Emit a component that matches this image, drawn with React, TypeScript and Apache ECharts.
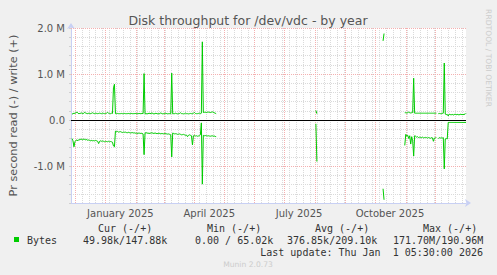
import React, { useEffect, useRef } from 'react';
import * as echarts from 'echarts';

const DAY = 86400000;
const START = Date.UTC(2024, 10, 27);
const END = Date.UTC(2026, 0, 1);

// values in thousands of bytes per second, one per day, segments start at a day offset from START
const seg1StartDay = 1;
const seg1Write = [
  130, 140, 150, 145, 160, 175, 150, 140, 145, 150,
  155, 140, 150, 170, 150, 145, 140, 150, 145, 140,
  150, 160, 145, 140, 150, 145, 140, 145, 150, 145,
  140, 150, 145, 140, 145, 150, 165, 150, 145, 140,
  150, 145, 700, 780,
  140, 140, 145, 140, 140, 140, 145, 140, 140, 145, 140, 140, 140, 145, 140, 140,
  145, 140, 140, 140, 145, 140, 140, 140, 145, 140, 140, 145, 140,
  1010,
  135, 140, 135, 140, 150, 145, 140, 160, 140, 135,
  140, 150, 140, 135, 140, 140, 160, 140, 135, 140,
  140, 150, 140, 135, 140, 140, 135,
  1020,
  135, 140, 140, 150, 140, 135, 140, 145, 160, 140,
  140, 135, 140, 150, 140, 140, 135, 140, 145, 140,
  140, 150, 165, 145, 140, 140, 145, 150, 140, 150,
  1700,
  165, 170, 170, 165, 170, 175, 170, 165, 170, 180, 170, 160, 150, 140,
];
const seg1Read = [
  -400, -450, -580, -470, -440, -430, -450, -420, -430, -410,
  -420, -430, -410, -420, -430, -420, -440, -430, -440, -450,
  -440, -450, -445, -450, -440, -450, -460, -510, -460, -450,
  -460, -455, -460, -470, -460, -465, -470, -460, -470, -465,
  -470, -480, -560, -580,
  -240, -250, -245, -260, -255, -250, -260, -270, -260, -265,
  -260, -270, -275, -265, -270, -280, -275, -270, -280, -275,
  -285, -280, -290, -285, -280, -290, -285, -290, -300,
  -750,
  -280, -270, -285, -280, -290, -285, -280, -275, -285, -290,
  -280, -285, -295, -290, -285, -290, -300, -290, -295, -300,
  -290, -295, -300, -305, -300, -310, -320,
  -800,
  -280, -290, -300, -295, -300, -310, -305, -300, -310, -320,
  -315, -310, -320, -330, -325, -360, -330, -320, -330, -340,
  -540,
  -340, -330, -345, -340, -350, -345, -340, -320,
  -60,
  -1390,
  -330, -340, -335, -340, -345, -340, -345, -350, -345, -340, -350, -345, -355, -360,
];
const seg2StartDay = 248;
const seg2Write = [210, 140];
const seg2Read = [-80, -900];
const seg3StartDay = 316;
const seg3Write = [1720, 1880];
const seg3Read = [-1490, -1730];
const seg4StartDay = 338;
const seg4Write = [
  160, 160, 155, 160, 175, 160, 155, 160, 165,
  910,
  150, 150, 150, 150, 150, 150, 150, 150, 150, 150, 150, 150,
  150, 150, 150, 150, 150, 150, 150, 150, 150, 150, 150,
  null,
  140, 145, 140, 140, 145, 150,
  1240,
  130, 120, 125, 90, 130, 120, 115, 125, 110, 120, 130,
  115, 125, 120, 110, 130, 120, 125, 115, 130, 125, 148,
];
const seg4Read = [
  -550, -310, -350, -330, -400, -340, -520, -360, -450,
  -780,
  -340, -350, -370, -360, -380, -370, -375, -380, -370, -385, -380, -375,
  -380, -390, -380, -385, -395, -380, -385, -460, -390, -385, -380,
  null,
  -400, -380, -390, -385, -390, -380,
  -1060,
  -410, -400, -410,
  -50, -50, -50, -50, -50, -50, -50, -50, -50, -50,
  -50, -50, -50, -50, -50, -50, -50, -50, -50,
];

const yLabelValues = [-1000000, 0, 1000000, 2000000];
const yLabelTexts = ['-1.0 M', '0.0', '1.0 M', '2.0 M'];
const xLabelDates = ['2025-01-16', '2025-04-16', '2025-07-16', '2025-10-16'];
const xLabels = ['January 2025', 'April 2025', 'July 2025', 'October 2025'];
const legendHeaders = ['Cur (-/+)', 'Min (-/+)', 'Avg (-/+)', 'Max (-/+)'];
const legendValues = ['49.98k/147.88k', '0.00 / 65.02k', '376.85k/209.10k', '171.70M/190.96M'];
const seriesName = 'Bytes';
const titleText = 'Disk throughput for /dev/vdc - by year';
const yAxisName = 'Pr second read (-) / write (+)';
const lastUpdate = 'Last update: Thu Jan \u00a01 05:30:00 2026';
const watermark = 'RRDTOOL / TOBI OETIKER';
const version = 'Munin 2.0.73';

type Seg = [number, (number | null)[]];

function build(segs: Seg[]) {
  const out: [number, number | null][] = [];
  segs.forEach(([s, arr]) => {
    arr.forEach((v, i) => out.push([START + (s + i) * DAY, v === null ? null : v * 1000]));
    out.push([START + (s + arr.length) * DAY - DAY / 2, null]);
  });
  return out;
}

const GREEN = '#00cc00';
const MAJOR = '#f4b0b0';
const MINOR = '#dadada';
const AXIS = '#c8d0f4';
const SANS = '"DejaVu Sans", sans-serif';
const MONO = '"DejaVu Sans Mono", monospace';

export default function App() {
  const ref = useRef<HTMLDivElement>(null);
  useEffect(() => {
    if (!ref.current) return;
    const chart = echarts.init(ref.current, undefined, { renderer: 'svg' });

    const writeData = build([
      [seg1StartDay, seg1Write], [seg2StartDay, seg2Write], [seg3StartDay, seg3Write], [seg4StartDay, seg4Write],
    ]);
    const readData = build([
      [seg1StartDay, seg1Read], [seg2StartDay, seg2Read], [seg3StartDay, seg3Read], [seg4StartDay, seg4Read],
    ]);

    const months: number[] = [];
    for (let i = 0; i < 13; i++) months.push(Date.UTC(2024, 11 + i, 1));
    const weeks: number[] = [];
    for (let t = Date.UTC(2024, 11, 1); t < END; t += 7 * DAY) weeks.push(t);
    const labelTimes = xLabelDates.map((d) => Date.parse(d + 'T00:00:00Z'));

    const gridLines: any[] = [];
    weeks.forEach((t) => gridLines.push({ xAxis: t, lineStyle: { color: MINOR, type: [1, 1], width: 1 } }));
    months.forEach((t) => gridLines.push({ xAxis: t, lineStyle: { color: MAJOR, type: [1, 1], width: 1 } }));
    [-1000000, 1000000, 2000000].forEach((v) =>
      gridLines.push({ yAxis: v, lineStyle: { color: MAJOR, type: [1, 1], width: 1 } })
    );

    const legendGraphics: any[] = [];
    const headerX = [98, 207, 315, 423];
    const valueX = [83, 195, 287, 393];
    legendHeaders.forEach((h, i) =>
      legendGraphics.push({ type: 'text', x: headerX[i], y: 228, style: { text: h, font: '10px ' + MONO, fill: '#333', align: 'left', verticalAlign: 'middle' } })
    );
    legendValues.forEach((h, i) =>
      legendGraphics.push({ type: 'text', x: valueX[i], y: 240, style: { text: h, font: '10px ' + MONO, fill: '#333', align: 'left', verticalAlign: 'middle' } })
    );

    chart.setOption({
      animation: false,
      backgroundColor: '#f0f0f0',
      grid: { left: 66, top: 28, width: 400, height: 175, show: true, backgroundColor: '#ffffff', borderWidth: 0 },
      xAxis: {
        type: 'value',
        min: START,
        max: END,
        axisLine: {
          show: true, onZero: false, lineStyle: { color: AXIS, width: 1 },
          symbol: ['none', 'arrow'], symbolSize: [6, 6], symbolOffset: [0, 5],
        },
        axisTick: { show: false },
        splitLine: { show: false },
        axisLabel: {
          customValues: labelTimes,
          formatter: (v: number) => {
            const i = labelTimes.indexOf(v);
            return i >= 0 ? xLabels[i] : '';
          },
          fontFamily: SANS, fontSize: 10, color: '#555', margin: 5,
          hideOverlap: false,
        },
      },
      yAxis: {
        type: 'value',
        min: -1800000,
        max: 2000000,
        interval: 200000,
        name: yAxisName,
        nameLocation: 'middle',
        nameRotate: 90,
        nameGap: 52,
        nameTextStyle: { fontFamily: SANS, fontSize: 11.3, color: '#555' },
        axisLine: {
          show: true, lineStyle: { color: AXIS, width: 1 },
          symbol: ['none', 'arrow'], symbolSize: [6, 6], symbolOffset: [0, 5],
        },
        axisTick: { show: true, length: 2, lineStyle: { color: '#d0d0d0' } },
        splitLine: { show: true, lineStyle: { color: MINOR, type: [1, 1], width: 1 } },
        axisLabel: {
          formatter: (v: number) => {
            const i = yLabelValues.indexOf(Math.round(v));
            return i >= 0 ? yLabelTexts[i] : '';
          },
          fontFamily: SANS, fontSize: 10, color: '#555', margin: 6,
        },
      },
      series: [
        {
          name: 'write',
          type: 'line',
          data: writeData,
          showSymbol: false,
          symbol: 'none',
          connectNulls: false,
          z: 10,
          lineStyle: { color: GREEN, width: 1 },
          itemStyle: { color: GREEN },
          markLine: {
            silent: true, symbol: 'none', label: { show: false }, animation: false,
            emphasis: { disabled: true },
            data: gridLines,
          },
        },
        {
          name: 'read',
          type: 'line',
          data: readData,
          showSymbol: false,
          symbol: 'none',
          connectNulls: false,
          z: 10,
          lineStyle: { color: GREEN, width: 1 },
          itemStyle: { color: GREEN },
          markLine: {
            silent: true, symbol: 'none', label: { show: false }, animation: false,
            emphasis: { disabled: true },
            data: [{ yAxis: 0, lineStyle: { color: '#000000', type: 'solid', width: 1.2 } }],
          },
        },
      ],
      graphic: [
        { type: 'text', x: 248, y: 20, style: { text: titleText, font: '12.5px ' + SANS, fill: '#555', align: 'center', verticalAlign: 'middle' } },
        { type: 'text', x: 488, y: 58, rotation: -Math.PI / 2, style: { text: watermark, font: '7.6px ' + SANS, fill: '#cccccc', align: 'center', verticalAlign: 'middle' } },
        { type: 'rect', shape: { x: 14, y: 237, width: 5, height: 5 }, style: { fill: GREEN } },
        { type: 'text', x: 27, y: 240, style: { text: seriesName, font: '10px ' + MONO, fill: '#333', align: 'left', verticalAlign: 'middle' } },
        ...legendGraphics,
        { type: 'text', x: 483, y: 252, style: { text: lastUpdate, font: '10px ' + MONO, fill: '#333', align: 'right', verticalAlign: 'middle' } },
        { type: 'text', x: 248, y: 264, style: { text: version, font: '7.6px ' + SANS, fill: '#cccccc', align: 'center', verticalAlign: 'middle' } },
      ],
    });

    return () => chart.dispose();
  }, []);

  return (
    <div
      ref={ref}
      style={{ position: 'fixed', left: 0, top: 0, width: 497, height: 275 }}
    />
  );
}
